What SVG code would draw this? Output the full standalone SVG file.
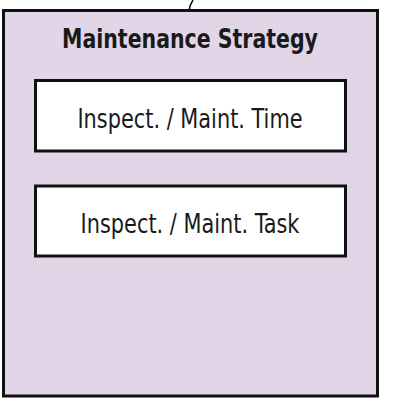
<svg xmlns="http://www.w3.org/2000/svg" width="403" height="400" viewBox="0 0 403 400">
<style>
.box{stroke:#111;stroke-width:3}
.t{font-family:"DejaVu Sans Condensed","DejaVu Sans",sans-serif;fill:#1a1a1a;text-anchor:middle}
</style>
<rect width="403" height="400" fill="#fff"/>
<g id="connectors">
<path d="M189,11 L190,6 L193,0" fill="none" stroke="#000" stroke-width="1.5"/>
</g>
<g id="maintenance-strategy">
<rect class="box" x="3.5" y="10.5" width="374" height="385.5" fill="#e1d5e7"/>
<text class="t" transform="translate(190,48) scale(1,1.15)" font-size="22.8" font-weight="bold">Maintenance Strategy</text>
</g>
<g id="inspect-time">
<rect class="box" x="35.5" y="80.5" width="310" height="70.5" fill="#fff"/>
<text class="t" transform="translate(190,128) scale(1,1.15)" font-size="23.2">Inspect. / Maint. Time</text>
</g>
<g id="inspect-task">
<rect class="box" x="35.5" y="186" width="310" height="70" fill="#fff"/>
<text class="t" transform="translate(190,233) scale(1,1.15)" font-size="23.2">Inspect. / Maint. Task</text>
</g>
</svg>
